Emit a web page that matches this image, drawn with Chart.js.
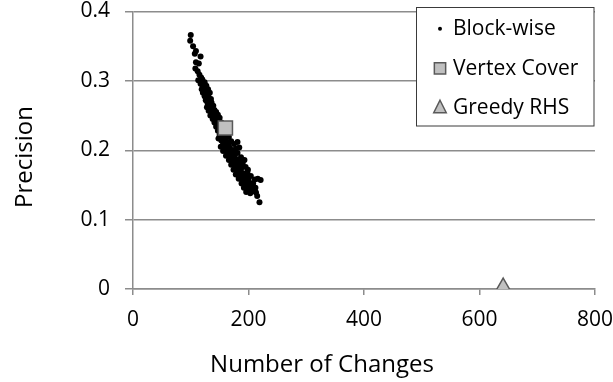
<!DOCTYPE html>
<html><head><meta charset="utf-8">
<script src="https://cdn.jsdelivr.net/npm/chart.js@4"></script>
<style>html,body{margin:0;padding:0;background:#fff}#wrap{width:613px;height:382px;position:relative}</style>
</head><body><div id="wrap"><canvas id="c" width="613" height="382"></canvas></div>
<script>
const seriesNames = ['Block-wise', 'Vertex Cover', 'Greedy RHS'];
const xTitle = 'Number of Changes';
const yTitle = 'Precision';
const xTicks = [0, 200, 400, 600, 800];
const yTicks = [0, 0.1, 0.2, 0.3, 0.4];

const blockWiseX = [100,99,104,109,107,117,109,114,108,112,115,118,113,120,117,124,122,127,119,125,130,121,128,133,124,131,126,135,129,136,132,128,139,134,141,131,137,144,134,140,147,138,143,150,141,146,153,144,149,155,147,152,158,150,156,162,148,153,160,166,156,163,170,152,159,166,175,181,156,163,170,178,184,161,168,174,181,166,172,179,187,193,170,176,183,190,174,180,187,195,199,178,185,191,198,183,189,196,204,211,188,194,201,216,192,198,206,196,203,210,215,219,221,208,
122,126,130,133,137,140,143,146,148,150,152,155,158,157,161,164,167,171,175,178,182,186,190,194,200,205,213,
160,165,169,173,177,181,185,189,193,197,202,207,212,200,195,188,184,176,172,168,164,150,145,141,138,136,133,130,127,125,123,120,118];
const blockWiseY = [0.366,0.358,0.350,0.343,0.339,0.335,0.327,0.325,0.318,0.314,0.309,0.305,0.301,0.302,0.296,0.298,0.292,0.293,0.288,0.286,0.288,0.283,0.281,0.283,0.278,0.276,0.272,0.274,0.268,0.269,0.265,0.262,0.264,0.260,0.258,0.257,0.254,0.255,0.250,0.249,0.251,0.245,0.243,0.247,0.240,0.238,0.240,0.234,0.232,0.235,0.228,0.226,0.229,0.222,0.220,0.224,0.217,0.214,0.216,0.219,0.209,0.211,0.213,0.205,0.203,0.206,0.209,0.212,0.199,0.197,0.200,0.202,0.204,0.192,0.190,0.194,0.196,0.186,0.184,0.187,0.190,0.186,0.179,0.177,0.180,0.182,0.172,0.170,0.173,0.176,0.172,0.165,0.163,0.167,0.168,0.159,0.157,0.160,0.163,0.158,0.152,0.150,0.154,0.159,0.146,0.144,0.148,0.140,0.138,0.143,0.134,0.125,0.157,0.152,
0.297,0.290,0.279,0.271,0.262,0.256,0.250,0.245,0.241,0.236,0.231,0.225,0.221,0.214,0.208,0.202,0.196,0.190,0.184,0.178,0.173,0.168,0.162,0.157,0.150,0.143,0.139,
0.210,0.200,0.193,0.188,0.181,0.176,0.171,0.165,0.160,0.155,0.147,0.141,0.146,0.158,0.164,0.176,0.183,0.190,0.198,0.203,0.208,0.229,0.236,0.245,0.252,0.258,0.263,0.270,0.277,0.283,0.289,0.294,0.300];
const vertexCoverX = [160];
const vertexCoverY = [0.232];
const greedyX = [641];
const greedyY = [0.002];

const toPts = (xs, ys) => xs.map((x, i) => ({x: x, y: ys[i]}));

const FONT = "'Open Sans'";
const GRID = '#8c8c8c';

function drawMarker(ctx, style, x, y, size) {
  ctx.beginPath();
  if (style === 'circle') {
    ctx.arc(x, y, size, 0, Math.PI * 2);
  } else if (style === 'rect') {
    ctx.rect(x - size / 2, y - size / 2, size, size);
  } else if (style === 'triangle') {
    ctx.moveTo(x, y - size / 2);
    ctx.lineTo(x + size / 2, y + size / 2);
    ctx.lineTo(x - size / 2, y + size / 2);
    ctx.closePath();
  }
}

const overlay = {
  id: 'overlay',
  afterDraw(chart) {
    const ctx = chart.ctx;
    ctx.save();
    ctx.fillStyle = '#000';
    ctx.font = '24px ' + FONT;
    ctx.textAlign = 'center';
    ctx.textBaseline = 'alphabetic';
    ctx.fillText(xTitle, 322, 372);
    ctx.save();
    ctx.translate(31.5, 157);
    ctx.rotate(-Math.PI / 2);
    ctx.fillText(yTitle, 0, 0);
    ctx.restore();
    ctx.fillStyle = '#fff';
    ctx.fillRect(416.5, 7.5, 177.5, 118.5);
    ctx.strokeStyle = '#3a3a3a';
    ctx.lineWidth = 1;
    ctx.strokeRect(416.5, 7.5, 177.5, 118.5);
    const rows = [
      {my: 28.8, base: 35, size: 2},
      {my: 68.3, base: 75, size: 11.3},
      {my: 106.5, base: 114.3, size: 12.5}
    ];
    chart.data.datasets.forEach((ds, i) => {
      const r = rows[i];
      ctx.fillStyle = ds.backgroundColor;
      ctx.strokeStyle = ds.borderColor;
      ctx.lineWidth = ds.borderWidth || 0;
      drawMarker(ctx, ds.pointStyle, 440, r.my, r.size);
      ctx.fill();
      if (ds.borderWidth) ctx.stroke();
      ctx.fillStyle = '#000';
      ctx.font = '21px ' + FONT;
      ctx.textAlign = 'left';
      ctx.textBaseline = 'alphabetic';
      ctx.fillText(ds.label, 453, r.base);
    });
    ctx.restore();
  }
};

new Chart(document.getElementById('c'), {
  type: 'scatter',
  data: {
    datasets: [
      {label: seriesNames[0], data: toPts(blockWiseX, blockWiseY), pointStyle: 'circle', pointRadius: 3, backgroundColor: '#000', borderColor: '#000', borderWidth: 0, order: 3},
      {label: seriesNames[1], data: toPts(vertexCoverX, vertexCoverY), pointStyle: 'rect', pointRadius: 10, backgroundColor: '#c0c0c0', borderColor: '#595959', borderWidth: 1.5, order: 1},
      {label: seriesNames[2], data: toPts(greedyX, greedyY), pointStyle: 'triangle', pointRadius: 9.5, backgroundColor: '#c0c0c0', borderColor: '#595959', borderWidth: 1.5, order: 2}
    ]
  },
  options: {
    responsive: false,
    devicePixelRatio: 1,
    animation: false,
    layout: {padding: {top: 11, right: 18, left: 0, bottom: 0}},
    plugins: {legend: {display: false}, tooltip: {enabled: false}},
    scales: {
      x: {
        type: 'linear', min: 0, max: 800,
        afterBuildTicks: s => { s.ticks = xTicks.map(v => ({value: v})); },
        afterFit: s => { s.height = 93; s.paddingLeft = 0; s.paddingRight = 0; },
        grid: {drawOnChartArea: false, drawTicks: true, tickLength: 6, color: GRID, lineWidth: 1.5},
        border: {display: true, color: GRID, width: 1.5},
        ticks: {padding: 12, color: '#000', font: {family: FONT, size: 21}, maxRotation: 0}
      },
      y: {
        type: 'linear', min: 0, max: 0.4,
        afterBuildTicks: s => { s.ticks = yTicks.map(v => ({value: v})); },
        afterFit: s => { s.width = 133; s.paddingTop = 0; s.paddingBottom = 0; },
        grid: {drawOnChartArea: true, drawTicks: true, tickLength: 8, color: GRID, lineWidth: 1.5},
        border: {display: true, color: GRID, width: 1.5},
        ticks: {padding: 15, color: '#000', font: {family: FONT, size: 21}, callback: v => String(+v.toFixed(1))}
      }
    }
  },
  plugins: [overlay]
});
</script>
</body></html>
